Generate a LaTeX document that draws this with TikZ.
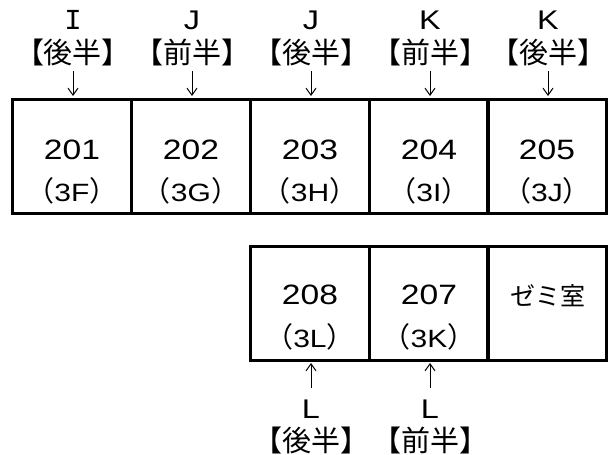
\documentclass[tikz,border=0pt]{standalone}
\usepackage{fontspec}
\setmainfont{Liberation Sans}
\newfontfamily\cjk{Noto Sans CJK JP}
\newfontfamily\wide[FakeStretch=1.2]{Liberation Sans}
\newfontfamily\monoi{Liberation Mono}
\newcommand{\numtxt}[1]{{\wide\fontsize{28}{28}\selectfont #1}}
\newcommand{\subtxt}[1]{{\cjk\fontsize{28}{28}\selectfont （}{\wide\fontsize{25}{25}\selectfont #1}{\cjk\fontsize{28}{28}\selectfont ）}}
\newcommand{\hd}[1]{{\cjk\fontsize{29}{29}\selectfont 【#1】}}
\newcommand{\ltr}[1]{{\wide\fontsize{27}{27}\selectfont #1}}
\tikzset{
  room/.style={draw=black,line width=3pt,minimum width=119pt,minimum height=114pt,inner sep=0pt},
  txt/.style={inner sep=0pt,anchor=center},
  flow/.style={draw=black,line width=1pt,-{Straight Barb[length=7pt,width=10pt]}},
}
\usetikzlibrary{arrows.meta}
\begin{document}
\begin{tikzpicture}[x=1pt,y=-1pt]
\useasboundingbox (0,0) rectangle (608,455);
\foreach \n/\x/\a/\b in {201/72/201/3F,202/191/202/3G,203/310/203/3H,204/429/204/3I,205/547/205/3J}{
  \node[room] (r\n) at (\x,156) {};
  \node[txt] (t\n) at (\x,150) {\numtxt{\a}};
  \node[txt] (s\n) at (\x,191) {\subtxt{\b}};
}
\foreach \n/\x/\a/\b in {208/310/208/3L,207/429/207/3K}{
  \node[room] (r\n) at (\x,303) {};
  \node[txt] (t\n) at (\x,295) {\numtxt{\a}};
  \node[txt] (s\n) at (\x,337) {\subtxt{\b}};
}
\node[room] (rz) at (547,303) {};
\node[txt] (tz) at (548,296) {\cjk\fontsize{25}{25}\selectfont ゼミ室};
\node[txt] (l201) at (73,20) {{\monoi\fontsize{29}{29}\selectfont I}};
\foreach \n/\x/\l in {202/192/J,203/311/J,204/430/K,205/548/K}{
  \node[txt] (l\n) at (\x,20) {\ltr{\l}};
}
\foreach \n/\x/\h in {201/73/後半,202/192/前半,203/311/後半,204/430/前半,205/548/後半}{
  \node[txt] (h\n) at (\x,52) {\hd{\h}};
  \coordinate (c\n) at (\x,71);
  \draw[flow] (c\n) -- (\x,96);
}
\foreach \n/\x/\h in {208/311/後半,207/430/前半}{
  \node[txt] (l\n) at (\x,409) {\ltr{L}};
  \node[txt] (h\n) at (\x,440) {\hd{\h}};
  \coordinate (c\n) at (\x,388);
  \draw[flow] (c\n) -- (\x,363);
}
\end{tikzpicture}
\end{document}
